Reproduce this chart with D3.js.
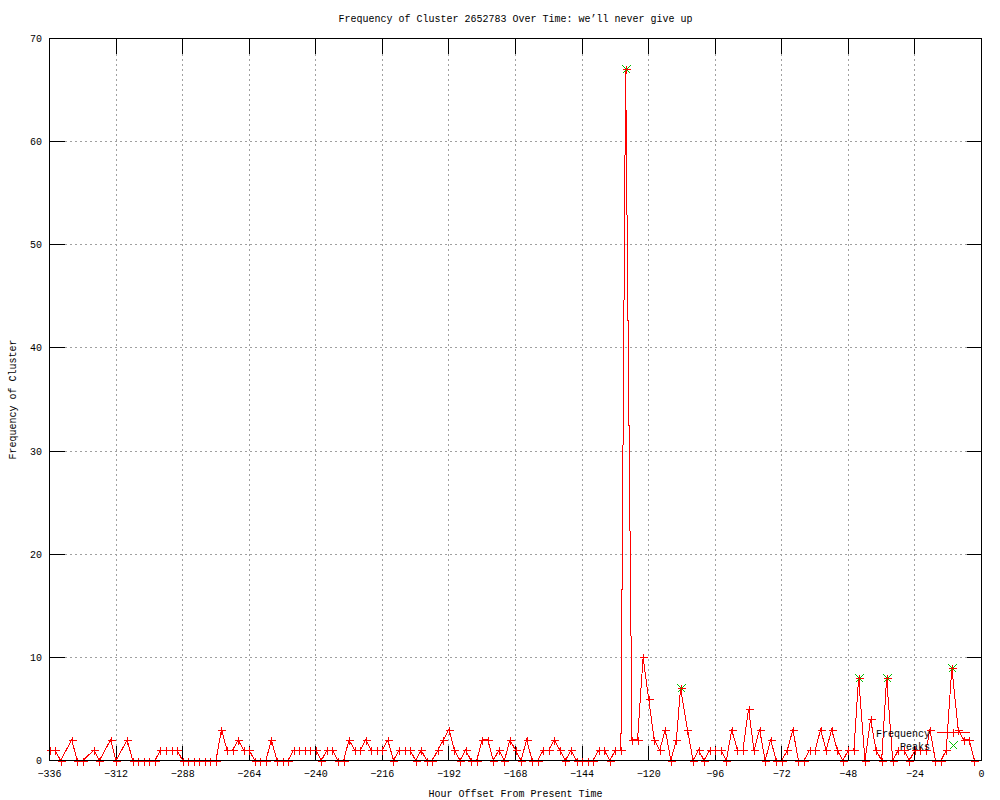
<!DOCTYPE html>
<html lang="en">
<head>
<meta charset="UTF-8">
<title>Frequency of Cluster 2652783 Over Time</title>
<script src="https://d3js.org/d3.v7.min.js"></script>
<style>
    body { margin: 0; background: #fff; }
    svg text { font-family: "Liberation Mono", "DejaVu Sans Mono", monospace; font-size: 10px; fill: #000; }
</style>
</head>
<body>
<div id="chart"></div>
<script>
// hour offsets and counts
var hours = [-336,-334,-332,-328,-326,-324,-320,-318,-314,-312,-308,-306,-304,-302,-300,-298,-296,-294,-292,-290,
    -288,-286,-284,-282,-280,-278,-276,-274,-272,-270,-268,-266,-264,-262,-260,-258,-256,-254,-252,-250,
    -248,-246,-244,-242,-240,-238,-236,-234,-232,-230,-228,-226,-224,-222,-220,-218,-216,-214,-212,-210,
    -208,-206,-204,-202,-200,-198,-196,-194,-192,-190,-188,-186,-184,-182,-180,-178,-176,-174,-172,-170,
    -168,-166,-164,-162,-160,-158,-156,-154,-152,-150,-148,-146,-144,-142,-140,-138,-136,-134,-132,-130,
    -128.3,-126,-124,-122,-120,-118,-116,-114,-112,-110,-108.5,-106,-104,-102,-100,-98,-96,-94,-92,-90,
    -88,-86,-84,-82,-80,-78,-76,-74,-72,-70,-68,-66,-64,-62,-60,-58,-56,-54,-52,-50,
    -48,-46,-44.3,-42,-40,-38,-36,-34.2,-32,-30,-28,-26,-24,-22,-20,-18.6,-16.6,-14.6,-12.7,-10.7,
    -8.4,-6.4,-4.4,-2.6];
var freq = [1,1,0,2,0,0,1,0,2,0,2,0,0,0,0,0,1,1,1,1,
    0,0,0,0,0,0,0,3,1,1,2,1,1,0,0,0,2,0,0,0,
    1,1,1,1,1,0,1,1,0,0,2,1,1,2,1,1,1,2,0,1,
    1,1,0,1,0,0,1,2,3,1,0,1,0,0,2,2,0,1,0,2,
    1,0,2,0,0,1,1,2,1,0,1,0,0,0,0,1,1,0,1,1,
    67,2,2,10,6,2,1,3,0,2,7,3,0,1,0,1,1,1,0,3,
    1,1,5,1,3,0,2,0,0,1,3,0,0,1,1,3,1,3,1,0,
    1,1,8,0,4,1,0,8,0,1,1,0,1,1,1,3,0,0,1,9,
    3,2,2,0];

var peakHours = [-128.3, -108.5, -44.3, -34.2, -10.7];
var peakValues = [67, 7, 8, 8, 9];

var xTicks = [-336,-312,-288,-264,-240,-216,-192,-168,-144,-120,-96,-72,-48,-24,0];
var yTicks = [0,10,20,30,40,50,60,70];

var width = 1000, height = 800;
var plotLeft = 49.5, plotRight = 981.5, plotTop = 38.5, plotBottom = 760.5;
var ticLen = 15;

var svg = d3.select("#chart").append("svg")
    .attr("width", width)
    .attr("height", height);

var x = d3.scaleLinear().domain([-336, 0]).range([plotLeft, plotRight]);
var y = d3.scaleLinear().domain([0, 70]).range([plotBottom, plotTop]);

// grid
var grid = svg.append("g")
    .attr("stroke", "#a0a0a0")
    .attr("stroke-dasharray", "2,3")
    .attr("shape-rendering", "crispEdges");

grid.selectAll(null)
    .data(xTicks.filter(function(d) { return d !== -336 && d !== 0; }))
    .enter().append("line")
    .attr("x1", function(d) { return x(d); })
    .attr("x2", function(d) { return x(d); })
    .attr("y1", plotTop)
    .attr("y2", plotBottom);

grid.selectAll(null)
    .data(yTicks.filter(function(d) { return d !== 0 && d !== 70; }))
    .enter().append("line")
    .attr("x1", plotLeft)
    .attr("x2", plotRight)
    .attr("y1", function(d) { return y(d); })
    .attr("y2", function(d) { return y(d); });

// tick marks, mirrored on top and right
var tics = svg.append("g")
    .attr("stroke", "#000")
    .attr("shape-rendering", "crispEdges");

xTicks.forEach(function(d) {
    tics.append("line").attr("x1", x(d)).attr("x2", x(d)).attr("y1", plotBottom).attr("y2", plotBottom - ticLen);
    tics.append("line").attr("x1", x(d)).attr("x2", x(d)).attr("y1", plotTop).attr("y2", plotTop + ticLen);
});
yTicks.forEach(function(d) {
    tics.append("line").attr("x1", plotLeft).attr("x2", plotLeft + ticLen).attr("y1", y(d)).attr("y2", y(d));
    tics.append("line").attr("x1", plotRight).attr("x2", plotRight - ticLen).attr("y1", y(d)).attr("y2", y(d));
});

// tick labels
svg.append("g").selectAll("text")
    .data(xTicks)
    .enter().append("text")
    .attr("x", function(d) { return x(d); })
    .attr("y", 777)
    .attr("text-anchor", "middle")
    .text(function(d) { return d === 0 ? "0" : "\u2212" + Math.abs(d); });

svg.append("g").selectAll("text")
    .data(yTicks)
    .enter().append("text")
    .attr("x", 42)
    .attr("y", function(d) { return y(d) + 3.5; })
    .attr("text-anchor", "end")
    .text(function(d) { return d; });

// data
var points = hours.map(function(h, i) { return [h, freq[i]]; });
var peaks = peakHours.map(function(h, i) { return [h, peakValues[i]]; });

var line = d3.line()
    .x(function(d) { return x(d[0]); })
    .y(function(d) { return y(d[1]); });

svg.append("path")
    .datum(points)
    .attr("d", line)
    .attr("fill", "none")
    .attr("stroke", "#ff0000")
    .attr("stroke-width", 1)
    .attr("shape-rendering", "crispEdges");

function plus(g, cx, cy, color) {
    g.append("path")
        .attr("d", "M" + (cx - 4) + "," + cy + "H" + (cx + 4) + "M" + cx + "," + (cy - 4) + "V" + (cy + 4))
        .attr("stroke", color)
        .attr("fill", "none")
        .attr("shape-rendering", "crispEdges");
}
function cross(g, cx, cy, color) {
    g.append("path")
        .attr("d", "M" + (cx - 4) + "," + (cy - 4) + "L" + (cx + 4) + "," + (cy + 4) +
                   "M" + (cx - 4) + "," + (cy + 4) + "L" + (cx + 4) + "," + (cy - 4))
        .attr("stroke", color)
        .attr("fill", "none")
        .attr("shape-rendering", "crispEdges");
}

// peaks under the frequency markers, as in the reference
var peakMarks = svg.append("g");
peaks.forEach(function(d) { cross(peakMarks, Math.round(x(d[0])) + 0.5, Math.round(y(d[1])) + 0.5, "#00c000"); });

var marks = svg.append("g");
points.forEach(function(d) { plus(marks, Math.round(x(d[0])) + 0.5, Math.round(y(d[1])) + 0.5, "#ff0000"); });

// border on top
svg.append("rect")
    .attr("x", plotLeft)
    .attr("y", plotTop)
    .attr("width", plotRight - plotLeft)
    .attr("height", plotBottom - plotTop)
    .attr("fill", "none")
    .attr("stroke", "#000")
    .attr("shape-rendering", "crispEdges");

// legend
var legend = svg.append("g");
legend.append("text").attr("x", 930).attr("y", 736.5).attr("text-anchor", "end").text("Frequency");
legend.append("line")
    .attr("x1", 937).attr("x2", 970).attr("y1", 732.5).attr("y2", 732.5)
    .attr("stroke", "#ff0000").attr("shape-rendering", "crispEdges");
plus(legend, 953.5, 732.5, "#ff0000");
legend.append("text").attr("x", 930).attr("y", 749.5).attr("text-anchor", "end").text("Peaks");
cross(legend, 953.5, 745.5, "#00c000");

// titles
svg.append("text")
    .attr("x", 515.5)
    .attr("y", 22)
    .attr("text-anchor", "middle")
    .text("Frequency of Cluster 2652783 Over Time: we\u2019ll never give up");

svg.append("text")
    .attr("x", 515.5)
    .attr("y", 797)
    .attr("text-anchor", "middle")
    .text("Hour Offset From Present Time");

svg.append("text")
    .attr("transform", "translate(16,399.5) rotate(-90)")
    .attr("text-anchor", "middle")
    .text("Frequency of Cluster");
</script>
</body>
</html>
